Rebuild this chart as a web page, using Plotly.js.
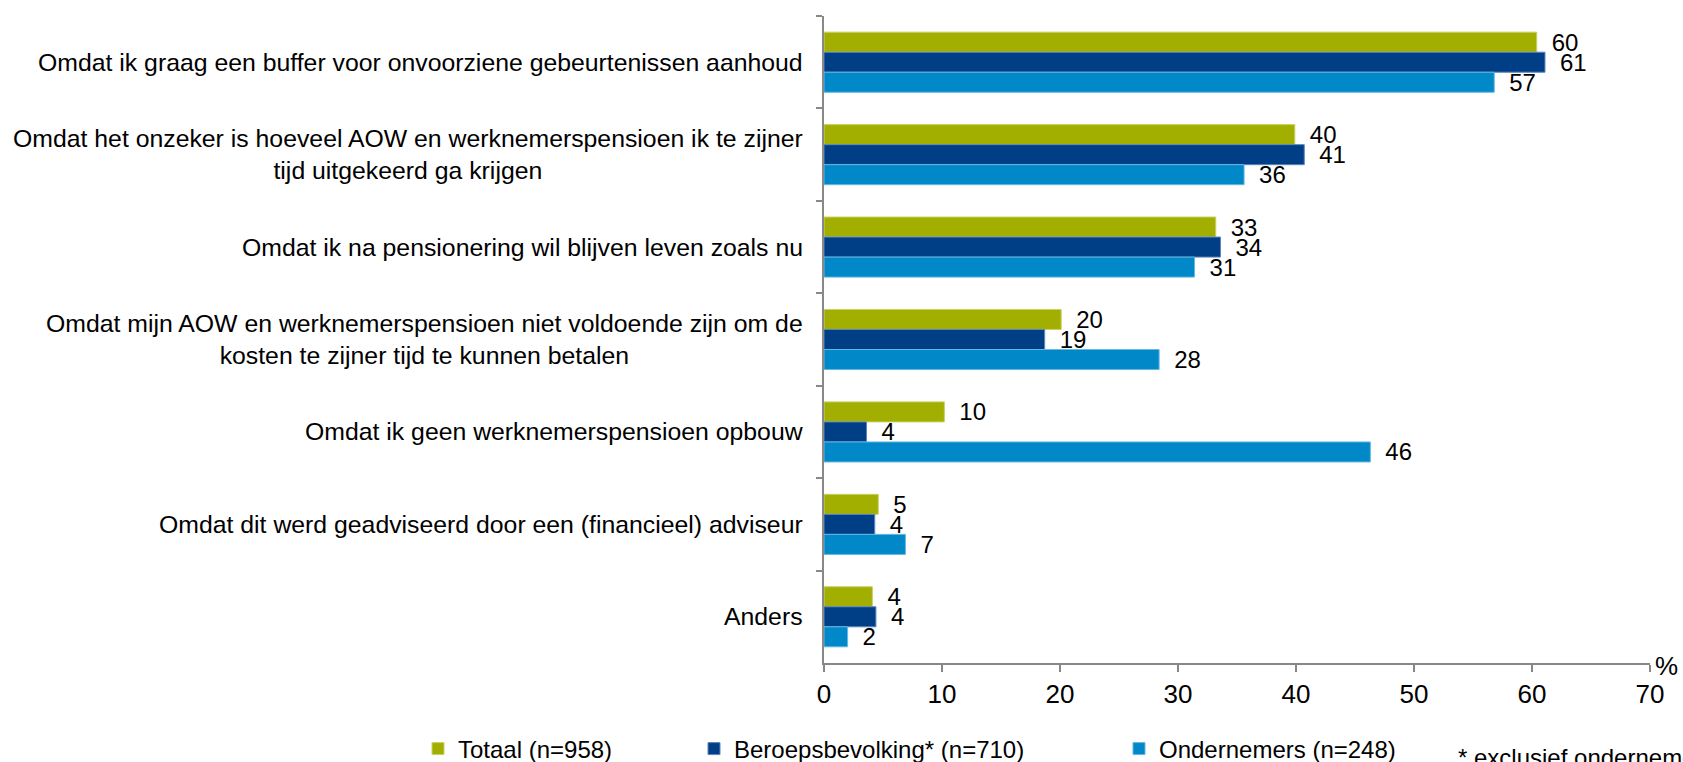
<!DOCTYPE html>
<html>
<head>
<meta charset="utf-8">
<script src="https://cdn.plot.ly/plotly-3.0.1.min.js"></script>
<style>
html,body{margin:0;padding:0;background:#fff;}
#chart{width:1683px;height:762px;}
</style>
</head>
<body>
<div id="chart"></div>
<script>
// ---- data ----
const categories = [
  "Omdat ik graag een buffer voor onvoorziene gebeurtenissen aanhoud",
  "Omdat het onzeker is hoeveel AOW en werknemerspensioen ik te zijner<br>tijd uitgekeerd ga krijgen",
  "Omdat ik na pensionering wil blijven leven zoals nu",
  "Omdat mijn AOW en werknemerspensioen niet voldoende zijn om de<br>kosten te zijner tijd te kunnen betalen",
  "Omdat ik geen werknemerspensioen opbouw",
  "Omdat dit werd geadviseerd door een (financieel) adviseur",
  "Anders"
];
const seriesNames = ["Totaal (n=958)", "Beroepsbevolking* (n=710)", "Ondernemers (n=248)"];
const totaal = [60.4, 39.9, 33.2, 20.1, 10.2, 4.6, 4.1];
const beroepsbevolking = [61.1, 40.7, 33.6, 18.7, 3.6, 4.3, 4.4];
const ondernemers = [56.8, 35.6, 31.4, 28.4, 46.3, 6.9, 2.0];
const labelsTotaal = [60, 40, 33, 20, 10, 5, 4];
const labelsBeroeps = [61, 41, 34, 19, 4, 4, 4];
const labelsOndernemers = [57, 36, 31, 28, 46, 7, 2];
const xTicks = [0, 10, 20, 30, 40, 50, 60, 70];
const footnote = "* exclusief ondernemers";

// ---- styles ----
const colors = ["#A2AF00", "#003F85", "#0088C8"];
const edgeColors = ["#C8D166", "#5A86BE", "#66B8E2"];
const FONT = "Liberation Sans, Arial, Helvetica, sans-serif";

const seriesVals = [totaal, beroepsbevolking, ondernemers];
const seriesLabels = [labelsTotaal, labelsBeroeps, labelsOndernemers];
const legendIds = ["legend", "legend2", "legend3"];

const traces = seriesVals.map((vals, i) => ({
  type: "bar",
  orientation: "h",
  name: seriesNames[i],
  x: vals,
  y: categories,
  text: seriesLabels[i].map(v => "\u2002" + v),
  textposition: "outside",
  constraintext: "none",
  cliponaxis: false,
  textfont: {family: FONT, size: 24, color: "#000"},
  marker: {color: colors[i], line: {color: edgeColors[i], width: 1}},
  legend: legendIds[i],
  hoverinfo: "x+name"
}));

const L = 824, R = 33, T = 16, B = 99;
const plotW = 1683 - L - R, plotH = 762 - T - B;

const annotations = categories.map(c => ({
  xref: "paper", yref: "y", x: 0, y: c,
  text: c, showarrow: false,
  xanchor: "right", yanchor: "middle", align: "center",
  xshift: -19,
  font: {family: FONT, size: 24.8, color: "#000"}
}));
annotations.push({
  xref: "paper", yref: "paper", x: 1, y: 0,
  text: "%", showarrow: false, xanchor: "left", yanchor: "middle",
  xshift: 3, yshift: -3,
  font: {family: FONT, size: 26, color: "#000"}
});
annotations.push({
  xref: "paper", yref: "paper", x: (1456 - L) / plotW, y: (663 - 758) / plotH,
  text: footnote, showarrow: false, xanchor: "left", yanchor: "middle",
  font: {family: FONT, size: 24, color: "#000"}
});

function legendAt(px) {
  return {
    xref: "container", yref: "container",
    x: px / 1683, y: 1 - 749 / 762,
    xanchor: "left", yanchor: "middle",
    orientation: "h",
    bgcolor: "rgba(0,0,0,0)", borderwidth: 0,
    font: {family: FONT, size: 24, color: "#000"},
    itemwidth: 30
  };
}

const layout = {
  width: 1683, height: 762,
  margin: {l: L, r: R, t: T, b: B, pad: 0},
  paper_bgcolor: "#fff", plot_bgcolor: "#fff",
  barmode: "group",
  bargap: 0.35, bargroupgap: 0,
  font: {family: FONT, size: 24, color: "#000"},
  xaxis: {
    range: [0, 70], tickvals: xTicks, ticktext: xTicks.map(String),
    showgrid: false, zeroline: false,
    showline: true, linecolor: "#888", linewidth: 2,
    ticks: "outside", ticklen: 7, tickwidth: 2, tickcolor: "#888",
    tickfont: {family: FONT, size: 26, color: "#000"},
    fixedrange: true
  },
  yaxis: {
    type: "category", autorange: "reversed",
    showticklabels: false, showgrid: false, zeroline: false,
    showline: true, linecolor: "#888", linewidth: 2,
    ticks: "outside", tickson: "boundaries", ticklen: 6, tickwidth: 2, tickcolor: "#888",
    fixedrange: true
  },
  showlegend: true,
  legend: legendAt(418),
  legend2: legendAt(694),
  legend3: legendAt(1119),
  annotations: annotations
};

Plotly.newPlot("chart", traces, layout, {displayModeBar: false, staticPlot: true});
</script>
</body>
</html>
